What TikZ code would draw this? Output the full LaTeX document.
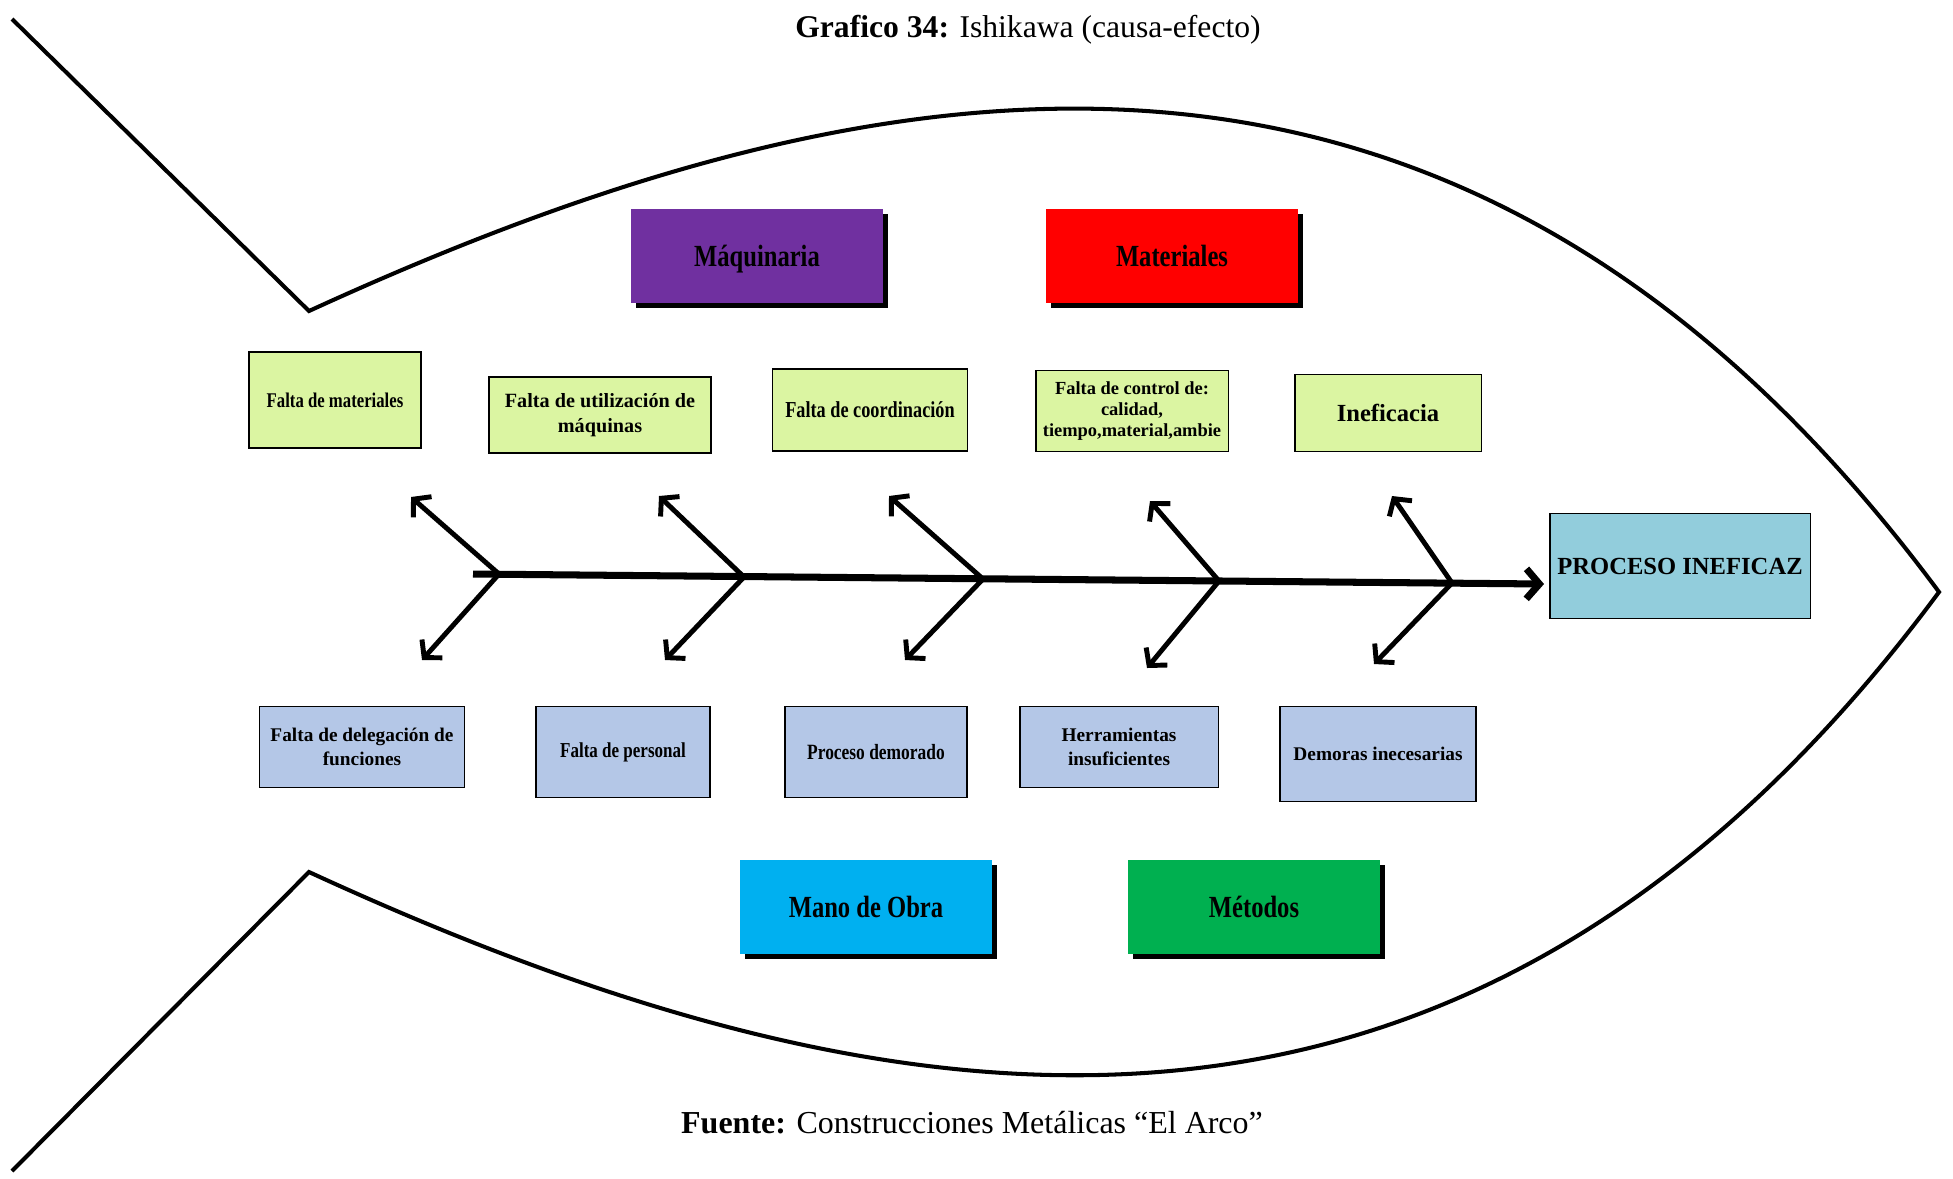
\documentclass[tikz,border=0pt]{standalone}
\usepackage{fontspec}
\setmainfont{Liberation Serif}
\newfontfamily\estrecha[FakeStretch=0.8]{Liberation Serif}
\usetikzlibrary{shapes,arrows.meta,positioning,shadows}

\definecolor{morado}{HTML}{7030A0}
\definecolor{rojo}{HTML}{FF0000}
\definecolor{celeste}{HTML}{00B0F0}
\definecolor{verde}{HTML}{00B050}
\definecolor{efectoazul}{HTML}{92CDDC}
\definecolor{verdeclaro}{HTML}{DBF5A2}
\definecolor{azulclaro}{HTML}{B4C7E7}

\tikzset{
  contorno/.style={line width=2.3pt,line join=miter},
  espina/.style={line width=4pt,-{Straight Barb[length=2.6mm,width=6mm]}},
  hueso/.style={line width=2.8pt,-{Straight Barb[length=2.4mm,width=5.5mm]}},
  categoria/.style={minimum width=5.04cm,minimum height=1.88cm,inner sep=0pt,
    text height=4mm,text depth=0mm,
    font=\estrecha\bfseries\fontsize{17.5}{19}\selectfont,
    drop shadow={fill=black,opacity=1,shadow xshift=0.1cm,shadow yshift=-0.1cm}},
  causaup/.style={draw=black,line width=1.1pt,fill=verdeclaro,align=center,inner sep=0pt},
  causadown/.style={draw=black,line width=1.1pt,fill=azulclaro,align=center,inner sep=0pt}
}

\begin{document}
\begin{tikzpicture}[x=0.02cm,y=-0.02cm]
    \useasboundingbox (0,0) rectangle (1953,1178);
    \node (titulo) at (1028,30) {\fontsize{18}{20}\selectfont\textbf{Grafico 34:} Ishikawa (causa-efecto)};
    \node (fuente) at (972,1123) {\fontsize{18.2}{20}\selectfont\textbf{Fuente:} Construcciones Metálicas “El Arco”};
    %% cuerpo del pez
    \draw[contorno] (12,19) -- (309,311) .. controls (900,40) and (1470,-40) .. (1939,592)
        .. controls (1470,1224) and (900,1144) .. (309,872) -- (12,1171);
    %% categorias
    \node[categoria,fill=morado] (maq) at (757,256) {Máquinaria};
    \node[categoria,fill=rojo] (mat) at (1172,256) {Materiales};
    \node[categoria,fill=celeste] (mano) at (866,907) {Mano de Obra};
    \node[categoria,fill=verde] (met) at (1254,907) {Métodos};
    \node[draw=black,line width=1.1pt,fill=efectoazul,minimum width=5.22cm,minimum height=2.1cm,
        font=\bfseries\fontsize{14}{16}\selectfont] (efecto) at (1680,566) {PROCESO INEFICAZ};
    %% causas de arriba
    \node[causaup,minimum width=3.44cm,minimum height=1.92cm,font=\estrecha\bfseries\fontsize{11.9}{13}\selectfont] (c1) at (335,400) {Falta de materiales};
    \node[causaup,minimum width=4.44cm,minimum height=1.52cm,font=\bfseries\fontsize{11.5}{14}\selectfont] (c2) at (600,415) {Falta de utilización de\\máquinas};
    \node[causaup,minimum width=3.9cm,minimum height=1.64cm,font=\estrecha\bfseries\fontsize{13}{14}\selectfont] (c3) at (870,410) {Falta de coordinación};
    \node[causaup,minimum width=3.86cm,minimum height=1.62cm,font=\bfseries\fontsize{10.5}{12.2}\selectfont] (c4) at (1132,411) {Falta de control de:\\calidad,\\tiempo,material,ambie};
    \node[causaup,minimum width=3.74cm,minimum height=1.54cm,font=\bfseries\fontsize{14}{16}\selectfont] (c5) at (1388,413) {Ineficacia};
    %% causas de abajo
    \node[causadown,minimum width=4.1cm,minimum height=1.62cm,font=\bfseries\fontsize{11}{13.5}\selectfont] (b1) at (362,747) {Falta de delegación de\\funciones};
    \node[causadown,minimum width=3.48cm,minimum height=1.82cm,font=\estrecha\bfseries\fontsize{12.1}{13}\selectfont] (b2) at (623,752) {Falta de personal};
    \node[causadown,minimum width=3.64cm,minimum height=1.82cm,font=\estrecha\bfseries\fontsize{12.4}{13}\selectfont] (b3) at (876,752) {Proceso demorado};
    \node[causadown,minimum width=3.98cm,minimum height=1.62cm,font=\bfseries\fontsize{11}{13.5}\selectfont] (b4) at (1119,747) {Herramientas\\insuficientes};
    \node[causadown,minimum width=3.92cm,minimum height=1.9cm,font=\bfseries\fontsize{11}{12}\selectfont] (b5) at (1378,754) {Demoras inecesarias};
    %% espina
    \coordinate (s0) at (473,574);
    \coordinate (s1) at (1544,584);
    \draw[espina] (s0) -- (s1);
    \coordinate (j1) at (499,574);
    \coordinate (j2) at (744,577);
    \coordinate (j3) at (983,579);
    \coordinate (j4) at (1219,581);
    \coordinate (j5) at (1452,583);
    %% huesos
    \coordinate (u1) at (411,497);
    \coordinate (u2) at (659,496);
    \coordinate (u3) at (889,496);
    \coordinate (u4) at (1150,501);
    \coordinate (u5) at (1392,496);
    \coordinate (l1) at (422,660);
    \coordinate (l2) at (665,660);
    \coordinate (l3) at (905,660);
    \coordinate (l4) at (1147,668);
    \coordinate (l5) at (1374,664);
    \draw[hueso] (j1) -- (u1);
    \draw[hueso] (j2) -- (u2);
    \draw[hueso] (j3) -- (u3);
    \draw[hueso] (j4) -- (u4);
    \draw[hueso] (j5) -- (u5);
    \draw[hueso] (j1) -- (l1);
    \draw[hueso] (j2) -- (l2);
    \draw[hueso] (j3) -- (l3);
    \draw[hueso] (j4) -- (l4);
    \draw[hueso] (j5) -- (l5);
\end{tikzpicture}
\end{document}
